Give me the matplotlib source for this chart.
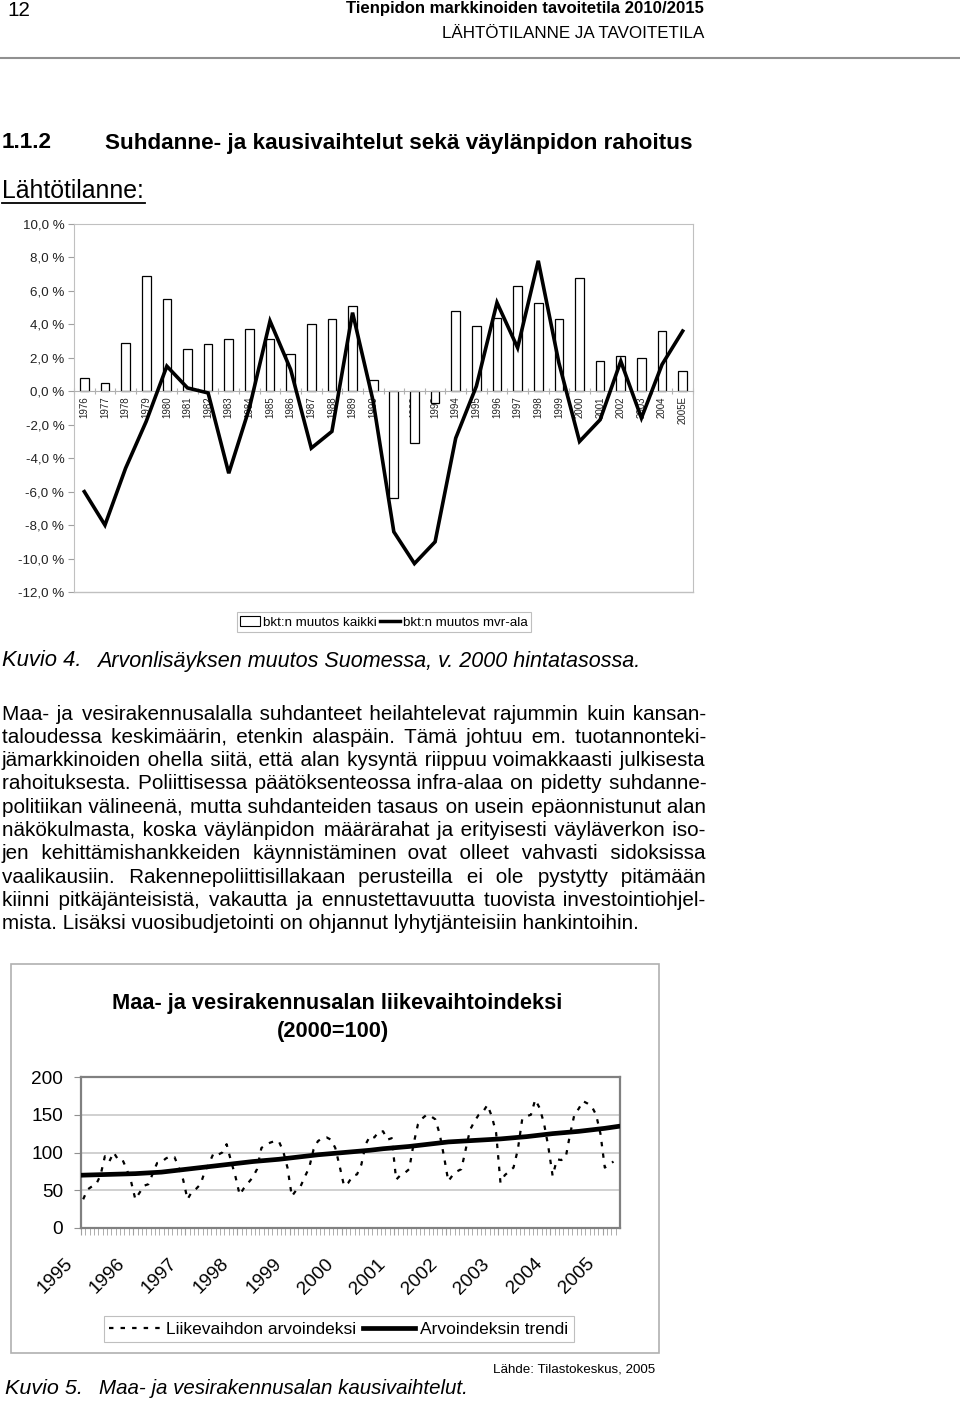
import matplotlib
matplotlib.use("Agg")
import matplotlib.pyplot as plt
import numpy as np
from matplotlib.patches import Rectangle, Patch
from matplotlib.lines import Line2D
from matplotlib.transforms import ScaledTranslation

SANS = ["Liberation Sans", "DejaVu Sans"]
plt.rcParams["font.family"] = SANS

# --- Kuvio 4: arvonlisäyksen muutos (%)
years1 = ["1976", "1977", "1978", "1979", "1980", "1981", "1982", "1983", "1984", "1985",
          "1986", "1987", "1988", "1989", "1990", "1991", "1992", "1993", "1994", "1995",
          "1996", "1997", "1998", "1999", "2000", "2001", "2002", "2003", "2004", "2005E"]
bkt_kaikki = [0.8, 0.5, 2.9, 6.9, 5.5, 2.5, 2.8, 3.1, 3.7, 3.1,
              2.2, 4.0, 4.3, 5.1, 0.7, -6.4, -3.1, -0.7, 4.8, 3.9,
              4.4, 6.3, 5.3, 4.3, 6.8, 1.8, 2.1, 2.0, 3.6, 1.2]
bkt_mvr = [-6.0, -8.0, -4.6, -1.8, 1.5, 0.2, -0.1, -4.9, -1.0, 4.2,
           1.3, -3.4, -2.4, 4.7, -0.6, -8.4, -10.3, -9.0, -2.8, 0.3,
           5.3, 2.6, 7.8, 1.7, -3.0, -1.7, 1.8, -1.6, 1.6, 3.6]
yticks1 = [10, 8, 6, 4, 2, 0, -2, -4, -6, -8, -10, -12]

# --- Kuvio 5: liikevaihtoindeksi, kuukausittain 1/1995 - 3/2005
idx_1995 = [38, 51, 55, 58, 70, 95, 88, 100, 91, 91, 78, 62]
idx_1996 = [38, 47, 56, 58, 72, 86, 87, 92, 95, 94, 80, 64]
idx_1997 = [38, 48, 52, 58, 75, 86, 99, 97, 100, 111, 89, 69]
idx_1998 = [44, 53, 60, 67, 78, 106, 110, 113, 115, 115, 102, 80]
idx_1999 = [42, 50, 55, 68, 80, 104, 115, 119, 120, 117, 106, 82]
idx_2000 = [56, 60, 69, 71, 84, 111, 122, 120, 128, 128, 117, 119]
idx_2001 = [64, 70, 73, 78, 111, 137, 145, 150, 148, 144, 125, 95]
idx_2002 = [62, 70, 75, 78, 104, 130, 141, 150, 154, 163, 148, 126]
idx_2003 = [60, 70, 75, 80, 104, 144, 148, 150, 170, 159, 139, 108]
idx_2004 = [69, 91, 90, 93, 124, 150, 158, 168, 165, 161, 150, 125]
idx_2005 = [80, 84, 88]
arvoindeksi = (idx_1995 + idx_1996 + idx_1997 + idx_1998 + idx_1999 + idx_2000
               + idx_2001 + idx_2002 + idx_2003 + idx_2004 + idx_2005)
# trendi neljännesvuosittain
trendi = [70, 70.5, 71, 71.5, 72, 73, 74, 76, 78, 80, 82, 84, 86, 88, 89.5, 91,
          93, 95, 97, 98.5, 100, 101.5, 103, 105, 106.5, 108, 110, 112, 114, 115,
          116, 117, 118, 119.5, 121, 123, 125, 126.5, 128, 130, 132, 134.5]
years2 = ["1995", "1996", "1997", "1998", "1999", "2000", "2001", "2002", "2003", "2004", "2005"]

paragraph = [
    "Maa- ja vesirakennusalalla suhdanteet heilahtelevat rajummin kuin kansan-",
    "taloudessa keskimäärin, etenkin alaspäin. Tämä johtuu em. tuotannonteki-",
    "jämarkkinoiden ohella siitä, että alan kysyntä riippuu voimakkaasti julkisesta",
    "rahoituksesta. Poliittisessa päätöksenteossa infra-alaa on pidetty suhdanne-",
    "politiikan välineenä, mutta suhdanteiden tasaus on usein epäonnistunut alan",
    "näkökulmasta, koska väylänpidon määrärahat ja erityisesti väyläverkon iso-",
    "jen kehittämishankkeiden käynnistäminen ovat olleet vahvasti sidoksissa",
    "vaalikausiin. Rakennepoliittisillakaan perusteilla ei ole pystytty pitämään",
    "kiinni pitkäjänteisistä, vakautta ja ennustettavuutta tuovista investointiohjel-",
    "mista. Lisäksi vuosibudjetointi on ohjannut lyhytjänteisiin hankintoihin.",
]

W, H = 960, 1402
fig = plt.figure(figsize=(W / 100, H / 100), dpi=100)
page = fig.add_axes([0, 0, 1, 1], zorder=0)
page.set_xlim(0, W)
page.set_ylim(H, 0)
page.axis("off")
renderer = fig.canvas.get_renderer()


def width_at(s, size=10, **kw):
    t = page.text(0, 0, s, fontsize=size, **kw)
    w = t.get_window_extent(renderer).width
    t.remove()
    return w


def fit(x, y, s, width, ha="left", **kw):
    size = 10 * width / width_at(s, **kw)
    return page.text(x, y, s, fontsize=size, ha=ha, va="center", **kw)


def axes_px(left, top, right, bottom):
    return fig.add_axes([left / W, 1 - bottom / H, (right - left) / W, (bottom - top) / H])


# page header
fit(7, 10, "12", 23)
fit(704, 8, "Tienpidon markkinoiden tavoitetila 2010/2015", 359, ha="right", fontweight="bold")
fit(704, 33, "LÄHTÖTILANNE JA TAVOITETILA", 262, ha="right")
page.plot([0, W], [58, 58], color="#909090", lw=1.5)
head = fit(105, 143, "Suhdanne- ja kausivaihtelut sekä väylänpidon rahoitus", 586, fontweight="bold")
page.text(2, 143, "1.1.2", fontsize=head.get_fontsize(), fontweight="bold", va="center")
fit(2, 191, "Lähtötilanne:", 143)
page.plot([2, 145], [203, 203], color="black", lw=1.3)

# ---------- chart 1
ax1 = axes_px(74, 224, 693, 592)
x1 = np.arange(len(years1))
ax1.bar(x1, bkt_kaikki, width=0.42, color="white", edgecolor="black", linewidth=0.9, zorder=2)
ax1.plot(x1, bkt_mvr, color="black", lw=2.6, zorder=3, solid_joinstyle="miter")
ax1.set_xlim(-0.5, len(years1) - 0.5)
ax1.set_ylim(-12, 10)
ax1.set_yticks(yticks1)
ax1.set_yticklabels([f"{v:.1f} %".replace(".", ",") for v in yticks1], fontsize=9.6, color="#222222")
ax1.tick_params(axis="y", length=4, color="#a0a0a0", pad=3)
for sp in ["top", "left", "right"]:
    ax1.spines[sp].set_color("#c0c0c0")
ax1.spines["bottom"].set_position(("data", 0))
ax1.spines["bottom"].set_color("#b0b0b0")
ax1.plot([0, 1], [0, 0], transform=ax1.transAxes, color="#c0c0c0", lw=1, clip_on=False)
ax1.set_xticks(np.arange(-0.5, len(years1), 1.0))
ax1.set_xticklabels([])
ax1.tick_params(axis="x", direction="inout", length=5, color="#b0b0b0")
for i, lab in enumerate(years1):
    ax1.text(i, -0.3, lab, rotation=90, ha="center", va="top", fontsize=7, color="#222222", zorder=1)
h1 = [Patch(facecolor="white", edgecolor="black", linewidth=0.8),
      Line2D([], [], color="black", lw=2.5)]
leg1 = ax1.legend(h1, ["bkt:n muutos kaikki", "bkt:n muutos mvr-ala"], loc="center",
                  bbox_to_anchor=(0.5007, -0.082), ncol=2, fontsize=9.6, frameon=True,
                  fancybox=False, borderpad=0.25, handlelength=1.5, handleheight=0.8,
                  handletextpad=0.2, columnspacing=0.3, borderaxespad=0)
leg1.get_frame().set_edgecolor("#b0b0b0")
leg1.get_frame().set_linewidth(0.8)

fit(2, 661, "Kuvio 4.", 80, style="italic")
fit(97, 661, "Arvonlisäyksen muutos Suomessa, v. 2000 hintatasossa.", 545, style="italic")

# paragraph, justified: one text per line, gaps padded with hair spaces
psize = 10 * 636 / width_at(paragraph[-1])
x0, x1r = 2, 706
sp_w = width_at("a a", psize) - width_at("aa", psize)
hair_w = width_at("a\u200aa", psize) - width_at("aa", psize)
for k, line in enumerate(paragraph):
    y = 714 + k * 23.3
    words = line.split()
    if k < len(paragraph) - 1 and hair_w > 0.3:
        ws = [width_at(w, psize) for w in words]
        g = (x1r - x0 - sum(ws)) / (len(words) - 1)
        s, pos, ideal = "", 0.0, 0.0
        for i, w in enumerate(words):
            s += w
            pos += ws[i]
            ideal += ws[i]
            if i < len(words) - 1:
                ideal += g
                m = max(0, int(round((ideal - pos - sp_w) / hair_w)))
                s += " " + "\u200a" * m
                pos += sp_w + m * hair_w
        line = s
    page.text(x0, y, line, fontsize=psize, va="center")

# ---------- chart 2
page.add_patch(Rectangle((11, 964), 648, 389, facecolor="none", edgecolor="#b0b0b0", lw=1.2))
title = fit(337, 1003, "Maa- ja vesirakennusalan liikevaihtoindeksi", 450, ha="center", fontweight="bold")
page.text(333, 1031, "(2000=100)", fontsize=title.get_fontsize(), ha="center", va="center",
          fontweight="bold")

ax2 = axes_px(81, 1077, 620, 1228)
months = np.arange(len(arvoindeksi))
tq = np.arange(len(trendi)) * 3
ax2.plot(months, arvoindeksi, color="black", lw=1.6, linestyle=(0, (2, 3.2)), zorder=2)
ax2.plot(tq, trendi, color="black", lw=3.4, zorder=3)
ax2.set_xlim(-0.5, 123.5)
ax2.set_ylim(0, 200)
ax2.set_yticks([0, 50, 100, 150, 200])
ysize = 10 * 32 / width_at("200")
ax2.set_yticklabels(["0", "50", "100", "150", "200"], fontsize=ysize)
ax2.yaxis.grid(True, color="#c8c8c8", lw=1.2)
ax2.set_axisbelow(True)
ax2.tick_params(axis="y", length=5, color="#909090", pad=8)
for sp in ax2.spines.values():
    sp.set_color("#808080")
    sp.set_linewidth(1.6)
ax2.set_xticks(np.arange(len(years2)) * 12 - 0.5)
ax2.set_xticks(np.arange(0, 124) - 0.5, minor=True)
ax2.tick_params(axis="x", which="both", length=5, color="#a0a0a0", pad=19)
ax2.set_xticklabels(years2, rotation=45, ha="right", va="center", rotation_mode="anchor",
                    fontsize=ysize)
shift = ScaledTranslation(-0.11, 0, fig.dpi_scale_trans)
for lab in ax2.get_xticklabels():
    lab.set_transform(lab.get_transform() + shift)
lsize = 10 * 190 / width_at("Liikevaihdon arvoindeksi")
h2 = [Line2D([], [], color="black", lw=1.6, linestyle=(0, (2, 3.2))),
      Line2D([], [], color="black", lw=3.4)]
leg2 = ax2.legend(h2, ["Liikevaihdon arvoindeksi", "Arvoindeksin trendi"], loc="center",
                  bbox_to_anchor=(0.478, -0.67), ncol=2, frameon=True, fontsize=lsize,
                  fancybox=False, borderpad=0.3, handlelength=3.0, handletextpad=0.3,
                  columnspacing=0.4, borderaxespad=0)
leg2.get_frame().set_edgecolor("#b0b0b0")
leg2.get_frame().set_linewidth(0.8)

fit(655, 1369, "Lähde: Tilastokeskus, 2005", 163, ha="right")
fit(5, 1388, "Kuvio 5.", 78, style="italic")
fit(99, 1388, "Maa- ja vesirakennusalan kausivaihtelut.", 371, style="italic")

fig.savefig("out.png", dpi=100, facecolor="white")
